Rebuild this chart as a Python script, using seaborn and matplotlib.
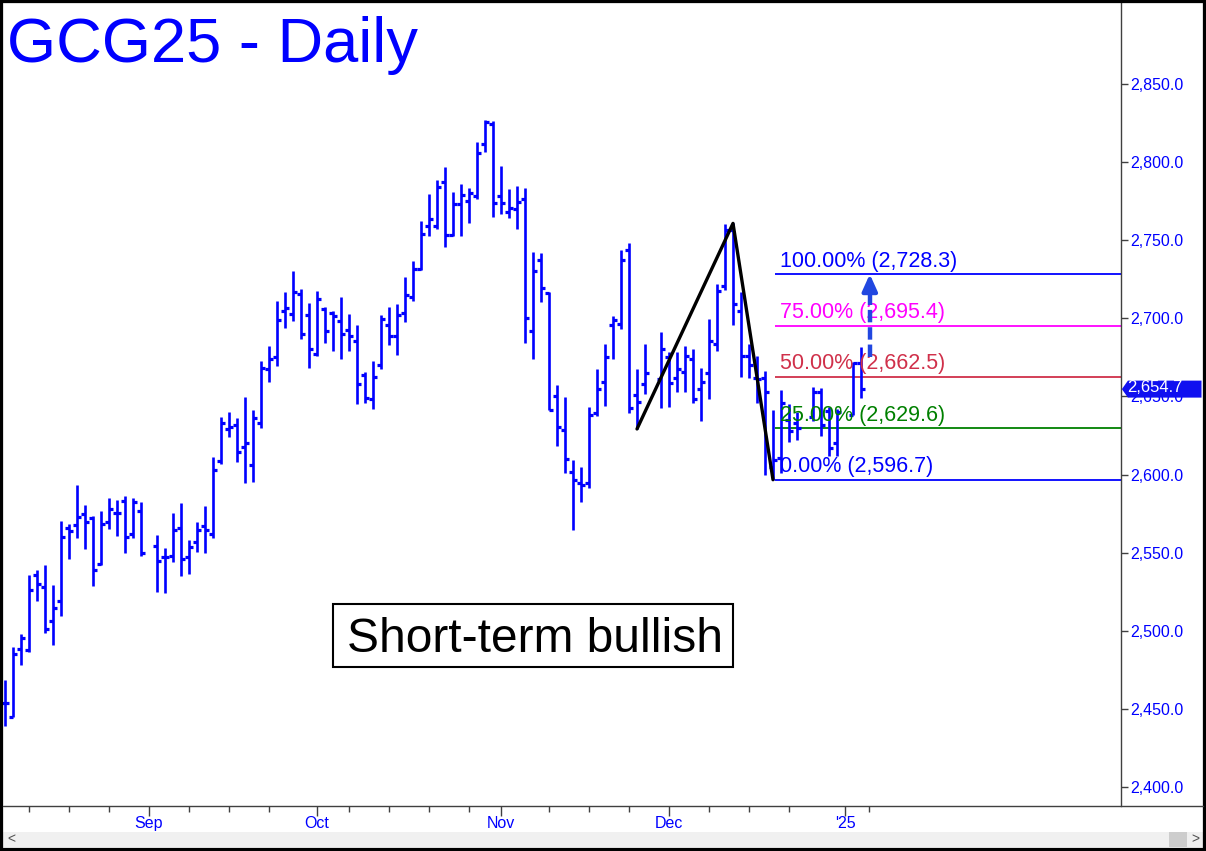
import matplotlib
matplotlib.use('Agg')
import matplotlib.pyplot as plt
import matplotlib.patches as mpatches
from matplotlib.lines import Line2D
import matplotlib.ticker as mticker
import seaborn as sns
import pandas as pd
import numpy as np

sns.set_theme(style='white')
plt.rcParams['font.family'] = ['Liberation Sans', 'DejaVu Sans']

# one slot per weekday, Aug 7 2024 .. Jan 3 2025 (None = holiday)
first_day = '2024-08-07'
last_day = '2025-01-03'

opens = [2453.5, 2445.0, 2488.1, 2487.7, 2535.7, 2528.2, 2506.2, 2519.0, 2565.6, 2567.7,
         2574.7, 2572.4, 2542.5, 2569.8, 2575.2, 2583.1, 2561.9, 2576.6, None, 2554.2,
         2547.0, 2547.8, 2565.6, 2547.0, 2556.6, 2567.0, 2562.0, 2608.6, 2629.1, 2631.7,
         2617.4, 2606.1, 2632.7, 2667.5, 2675.0, 2704.6, 2702.5, 2715.9, 2702.1, 2677.5,
         2705.9, 2703.6, 2698.2, 2692.5, 2685.7, 2663.7, 2648.3, 2670.1, 2695.7, 2688.6,
         2703.2, 2713.8, 2731.4, 2759.4, 2759.1, 2787.5, 2753.4, 2773.2, 2775.4, 2778.3,
         2811.6, 2824.2, 2778.3, 2768.3, 2770.0, 2776.4, 2692.1, 2737.4, 2716.5, 2650.2,
         2628.5, 2601.8, 2594.3, 2594.9, 2639.5, 2659.4, 2695.7, 2696.1, 2743.7, 2650.9,
         2657.9, None, 2660.9, 2675.4, 2662.0, 2665.4, 2673.7, 2654.5, 2665.2, 2683.9,
         2720.6, 2756.5, 2704.6, 2675.8, 2662.0, 2662.0, 2605.0, 2610.3, 2635.0, 2633.0,
         None, 2637.0, 2653.0, 2641.0, 2620.0, None, 2638.1, 2671.1]

highs = [2468.5, 2489.4, 2497.9, 2535.7, 2538.9, 2542.1, 2529.3, 2570.2, 2568.3, 2593.3,
         2580.5, 2573.4, 2576.6, 2584.8, 2583.7, 2586.3, 2584.8, 2582.2, None, 2561.3,
         2552.7, 2575.2, 2581.6, 2558.1, 2569.4, 2579.8, 2611.2, 2637.0, 2639.8, 2636.0,
         2649.8, 2641.3, 2672.6, 2682.2, 2711.0, 2717.0, 2730.3, 2718.7, 2710.0, 2717.5,
         2707.4, 2704.6, 2713.8, 2702.7, 2695.7, 2665.4, 2672.6, 2702.1, 2707.4, 2709.1,
         2726.6, 2736.7, 2762.3, 2779.6, 2788.6, 2797.1, 2781.1, 2786.0, 2783.2, 2812.7,
         2827.0, 2826.4, 2797.5, 2782.6, 2784.7, 2783.2, 2742.4, 2741.6, 2717.1, 2657.3,
         2649.4, 2609.2, 2605.0, 2643.0, 2667.5, 2683.5, 2701.4, 2743.7, 2748.4, 2667.5,
         2683.9, None, 2691.0, 2678.6, 2678.6, 2682.2, 2680.1, 2667.9, 2699.9, 2721.7,
         2760.3, 2760.8, 2717.0, 2683.9, 2676.0, 2666.0, 2641.3, 2654.1, 2645.0, 2640.0,
         None, 2656.0, 2655.1, 2643.0, 2642.0, None, 2672.2, 2681.8]

lows = [2439.2, 2445.0, 2478.1, 2486.6, 2519.2, 2498.3, 2490.9, 2509.6, 2545.9, 2559.6,
        2552.3, 2528.8, 2542.0, 2565.1, 2560.9, 2549.5, 2559.1, 2548.0, None, 2525.0,
        2524.4, 2544.2, 2535.3, 2536.3, 2550.2, 2550.0, 2559.6, 2606.5, 2624.2, 2608.2,
        2594.3, 2595.4, 2629.9, 2659.4, 2669.6, 2694.0, 2698.5, 2686.5, 2667.9, 2675.8,
        2684.0, 2679.3, 2674.3, 2679.3, 2645.1, 2645.5, 2641.7, 2667.5, 2682.9, 2676.5,
        2697.8, 2711.3, 2731.0, 2753.0, 2757.0, 2745.5, 2752.7, 2753.0, 2760.8, 2776.2,
        2806.3, 2765.1, 2766.6, 2764.0, 2757.0, 2684.0, 2673.8, 2710.7, 2641.1, 2618.4,
        2600.7, 2564.4, 2582.6, 2591.1, 2637.4, 2644.0, 2674.3, 2693.5, 2639.5, 2629.2,
        2651.3, None, 2642.7, 2643.4, 2653.0, 2653.0, 2645.5, 2634.4, 2648.3, 2679.2,
        2718.1, 2695.5, 2662.4, 2661.5, 2646.0, 2600.0, 2596.7, 2601.0, 2621.0, 2622.0,
        None, 2634.0, 2625.0, 2612.0, 2612.0, None, 2638.1, 2648.7]

closes = [2453.5, 2485.1, 2495.1, 2526.1, 2529.7, 2500.9, 2514.3, 2559.8, 2563.8, 2572.6,
          2569.8, 2538.9, 2568.3, 2577.7, 2575.2, 2559.8, 2582.6, 2549.5, None, 2544.6,
          2547.4, 2564.5, 2545.7, 2553.8, 2564.5, 2564.5, 2602.9, 2632.7, 2630.6, 2614.2,
          2619.9, 2636.0, 2667.9, 2674.3, 2698.9, 2706.4, 2716.6, 2689.7, 2680.7, 2712.1,
          2691.8, 2701.4, 2690.3, 2688.6, 2657.7, 2649.2, 2662.2, 2699.3, 2688.6, 2702.1,
          2714.9, 2731.5, 2754.0, 2763.4, 2783.9, 2753.4, 2773.2, 2779.0, 2780.5, 2806.1,
          2825.9, 2774.1, 2774.1, 2770.4, 2774.3, 2700.2, 2730.3, 2719.2, 2641.3, 2630.6,
          2609.9, 2596.4, 2593.2, 2638.1, 2654.5, 2675.0, 2698.9, 2737.3, 2642.3, 2646.6,
          2665.2, None, 2680.7, 2658.7, 2667.3, 2675.8, 2648.1, 2659.4, 2685.4, 2717.7,
          2756.5, 2709.0, 2676.0, 2670.0, 2661.0, 2653.0, 2609.3, 2645.5, 2628.0, 2629.5,
          None, 2653.0, 2631.7, 2617.0, 2640.0, None, 2671.1, 2654.7]

month_labels = ['Sep', 'Oct', 'Nov', 'Dec', "'25"]
y_ticks = [2400, 2450, 2500, 2550, 2600, 2650, 2700, 2750, 2800, 2850]

# A-B-C swing used for the projection
pivot_idx = [79, 91, 96]
fib_ratios = [1.0, 0.75, 0.5, 0.25, 0.0]
fib_colors = ['#0000FF', '#FF00FF', '#D0304A', '#008000', '#0000FF']

BLUE = '#0000FF'
W, H = 1206, 851


def grafico():
    df = pd.DataFrame({'open': opens, 'high': highs, 'low': lows, 'close': closes},
                      dtype=float)
    df['slot'] = np.arange(len(df))
    bars = df.dropna()

    fig = plt.figure(figsize=(W / 100, H / 100), dpi=100)
    fig.patch.set_facecolor('white')
    ax = fig.add_axes([3 / W, 45 / H, 1118 / W, 803 / H])
    ax.set_facecolor('white')

    ax.vlines(bars['slot'], bars['low'], bars['high'], color=BLUE, lw=1.9, zorder=3)
    ax.hlines(bars['open'], bars['slot'] - 0.5, bars['slot'], color=BLUE, lw=2.3, zorder=3)
    ax.hlines(bars['close'], bars['slot'], bars['slot'] + 0.5, color=BLUE, lw=2.3, zorder=3)

    # zigzag
    a = df['low'][pivot_idx[0]]
    b = df['high'][pivot_idx[1]]
    c = df['low'][pivot_idx[2]]
    zig = pd.DataFrame({'x': pivot_idx, 'y': [a, b, c]})
    sns.lineplot(data=zig, x='x', y='y', sort=False, estimator=None, color='black',
                 lw=2.4, ax=ax, zorder=4)

    x_end = 139.5
    for r, col in zip(fib_ratios, fib_colors):
        lvl = c + (b - a) * r
        ax.hlines(lvl, pivot_idx[2] + 0.25, x_end, color=col, lw=1.3, zorder=2)
        ax.annotate(f'{r * 100:.2f}% ({lvl:,.1f})', xy=(96.9, lvl), xytext=(0, 5.5),
                    textcoords='offset points', ha='left', va='baseline',
                    color=col, fontsize=15.5, zorder=5)

    # projected move
    target = c + (b - a)
    ax.plot([108.1, 108.1], [2675.2, target - 10], color='#2147E0', lw=3.2,
            ls=(0, (2.8, 1.1)), solid_capstyle='butt', dash_capstyle='butt', zorder=5)
    ax.annotate('', xy=(108.1, target), xytext=(108.1, target - 10),
                arrowprops=dict(arrowstyle='-|>,head_length=1.0,head_width=0.45',
                                color='#2147E0', lw=3, shrinkA=0, shrinkB=0,
                                mutation_scale=10), zorder=5)

    # comment box
    ax.add_patch(mpatches.Rectangle((41, 2476.8), 50, 40.3, fc='white', ec='black',
                                    lw=1.5, zorder=6))
    ax.text(42.75, 2486.4, 'Short-term bullish', ha='left', va='baseline',
            fontsize=34.5, color='black', zorder=7)

    ax.set_xlim(-0.25, x_end)
    ax.set_ylim(2387.8, 2901.9)

    # x axis: months and weekly ticks
    days = pd.bdate_range(first_day, '2025-01-06')
    month_pos = [i for i in range(1, len(days)) if days[i].month != days[i - 1].month]
    mondays = [i for i in range(len(days)) if days[i].dayofweek == 0
               and min(abs(i - m) for m in month_pos) > 2]
    ax.set_xticks(month_pos)
    ax.set_xticklabels(month_labels)
    ax.set_xticks(mondays, minor=True)
    ax.tick_params(axis='x', which='major', length=7, width=1, color='#404040',
                   labelcolor=BLUE, labelsize=11.5, pad=0, bottom=True)
    ax.tick_params(axis='x', which='minor', length=4, width=1, color='#404040', bottom=True)

    # y axis on the right
    ax.yaxis.tick_right()
    ax.set_yticks(y_ticks)
    ax.yaxis.set_major_formatter(mticker.FuncFormatter(lambda v, p: f'{v:,.1f}'))
    ax.tick_params(axis='y', which='major', length=5, width=1, color='#404040',
                   labelcolor=BLUE, labelsize=11.5, pad=2, right=True, left=False)
    ax.set_xlabel('')
    ax.set_ylabel('')

    for side in ['left', 'top', 'bottom']:
        ax.spines[side].set_visible(False)
    ax.spines['right'].set_color('#404040')
    ax.spines['right'].set_linewidth(1)

    fig.add_artist(Line2D([3 / W, 1203 / W], [45 / H, 45 / H], color='#404040', lw=1))

    # last price tag (sits over the 2,650.0 label as in the original)
    last = df['close'].dropna().iloc[-1]
    tr = ax.get_yaxis_transform()
    hh = 8.5 * 0.6402
    tag = mpatches.Polygon([(1.0008, last), (1.0062, last + hh), (1.0720, last + hh),
                            (1.0720, last - hh), (1.0062, last - hh)],
                           closed=True, transform=tr, fc='#1010F0', ec='none',
                           clip_on=False, zorder=10)
    ax.add_patch(tag)
    ax.text(1.0055, last + 0.8, f'{last:,.1f}', transform=tr, ha='left', va='center',
            color='white', fontsize=12, clip_on=False, zorder=11)

    # title
    fig.text(7 / W, 1 - 62 / H, 'GCG25 - Daily', color=BLUE, fontsize=45.5,
             ha='left', va='baseline')

    # scrollbar and frame
    fig.add_artist(mpatches.Rectangle((3 / W, 4 / H), 1200 / W, 15 / H,
                                      transform=fig.transFigure, fc='#F0F0F0', ec='none'))
    fig.add_artist(mpatches.Rectangle((1169 / W, 4 / H), 18 / W, 15 / H,
                                      transform=fig.transFigure, fc='#CDCDCD', ec='none'))
    fig.text(11 / W, 11.5 / H, '<', color='#505050', fontsize=10, ha='center', va='center')
    fig.text(1195 / W, 11.5 / H, '>', color='#505050', fontsize=10, ha='center', va='center')
    fig.add_artist(mpatches.Rectangle((0, 0), 1, 1, transform=fig.transFigure,
                                      fill=False, ec='black', lw=4.5))

    fig.savefig('out.png', dpi=100)
    plt.close(fig)


if __name__ == '__main__':
    grafico()
